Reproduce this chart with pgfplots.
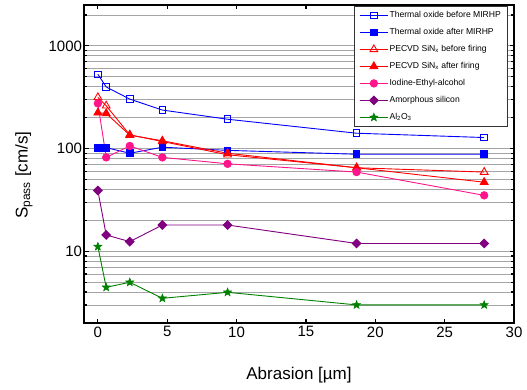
\documentclass[border=0pt]{standalone}
\usepackage{fontspec}
\setmainfont{Liberation Sans}
\usepackage{pgfplots}
\pgfplotsset{compat=1.18}
\usetikzlibrary{plotmarks}
\definecolor{mypink}{RGB}{255,20,140}
\definecolor{mypurple}{RGB}{128,0,128}
\definecolor{mygreen}{RGB}{0,128,0}
\definecolor{mygrid}{RGB}{165,165,165}
\pgfdeclareplotmark{fstar}{%
  \pgfpathmoveto{\pgfqpointpolar{90}{\pgfplotmarksize}}%
  \pgfpathlineto{\pgfqpointpolar{126}{0.42\pgfplotmarksize}}%
  \pgfpathlineto{\pgfqpointpolar{162}{\pgfplotmarksize}}%
  \pgfpathlineto{\pgfqpointpolar{198}{0.42\pgfplotmarksize}}%
  \pgfpathlineto{\pgfqpointpolar{234}{\pgfplotmarksize}}%
  \pgfpathlineto{\pgfqpointpolar{270}{0.42\pgfplotmarksize}}%
  \pgfpathlineto{\pgfqpointpolar{306}{\pgfplotmarksize}}%
  \pgfpathlineto{\pgfqpointpolar{342}{0.42\pgfplotmarksize}}%
  \pgfpathlineto{\pgfqpointpolar{18}{\pgfplotmarksize}}%
  \pgfpathlineto{\pgfqpointpolar{54}{0.42\pgfplotmarksize}}%
  \pgfpathclose
  \pgfusepathqfillstroke}
\begin{document}
\begin{tikzpicture}
\begin{axis}[
  scale only axis, width=430pt, height=318pt,
  xmin=-1, xmax=30, ymin=2, ymax=2500, ymode=log,
  xtick={0,5,...,30},
  ytick={10,100,1000}, yticklabels={10,100,1000},
  minor ytick={2,3,4,5,6,7,8,9,20,30,40,50,60,70,80,90,200,300,400,500,600,700,800,900,2000},
  ymajorgrids, yminorgrids,
  major grid style={mygrid, line width=0.8pt},
  minor grid style={mygrid, line width=0.8pt},
  axis line style={line width=1.6pt},
  major tick length=4.5pt, minor tick length=3pt,
  every tick/.style={black, line width=1.2pt},
  /pgf/number format/assume math mode=true,
  tick label style={font=\fontsize{15}{15}\selectfont},
  yticklabel style={xshift=1.5pt},
  xlabel={Abrasion [µm]},
  ylabel={S\textsubscript{pass} [cm/s]},
  label style={font=\fontsize{17}{17}\selectfont},
  xlabel style={at={(axis description cs:0.5,-0.1635)}, anchor=center},
  ylabel style={at={(axis description cs:-0.1395,0.465)}, anchor=center},
  every axis plot/.append style={line width=0.9pt},
  legend style={at={(rel axis cs:0.984,0.997)}, anchor=north east,
    font=\fontsize{8.6}{9}\selectfont, draw=black!80, fill=white,
    inner xsep=5pt, inner ysep=4pt, row sep=6.5pt,
    nodes={text height=6.5pt, text depth=2pt, inner sep=1pt}},
  legend cell align=left,
  legend image code/.code={\draw[mark repeat=2,mark phase=2] plot coordinates {(0cm,0cm) (0.5cm,0cm) (1cm,0cm)};},
]
\addplot[blue, mark=square, mark size=3.3pt, mark options={fill=white}] coordinates {
 (0,529) (0.6,398) (2.3,303) (4.65,237) (9.35,193) (18.65,141) (27.85,128)};
\addlegendentry{Thermal oxide before MIRHP}
\addplot[blue, mark=square*, mark size=3.3pt] coordinates {
 (0,101) (0.6,102) (2.3,90) (4.65,103) (9.35,96) (18.65,88) (27.85,88)};
\addlegendentry{Thermal oxide after MIRHP}
\addplot[red, mark=triangle, mark size=4.5pt, mark options={fill=white}] coordinates {
 (0,315) (0.6,261) (2.3,136) (4.65,117) (9.35,87) (18.65,65) (27.85,59)};
\addlegendentry{PECVD SiN\textsubscript{x} before firing}
\addplot[red, mark=triangle*, mark size=4.5pt] coordinates {
 (0,223) (0.6,220) (2.3,135) (4.65,119) (9.35,90) (18.65,65) (27.85,47)};
\addlegendentry{PECVD SiN\textsubscript{x} after firing}
\addplot[mypink, mark=*, mark size=3.7pt] coordinates {
 (0,275) (0.6,82) (2.3,106) (4.65,82) (9.35,71) (18.65,59) (27.85,35)};
\addlegendentry{Iodine-Ethyl-alcohol}
\addplot[mypurple, mark=diamond*, mark size=4.3pt, mark options={xscale=1.33}] coordinates {
 (0,39) (0.6,14.4) (2.3,12.4) (4.65,18) (9.35,18) (18.65,11.9) (27.85,11.9)};
\addlegendentry{Amorphous silicon}
\addplot[mygreen, mark=fstar, mark size=4.3pt, mark options={fill=mygreen, line width=0.5pt}] coordinates {
 (0,11.1) (0.6,4.45) (2.3,4.98) (4.65,3.48) (9.35,3.98) (18.65,3.0) (27.85,3.0)};
\addlegendentry{Al\textsubscript{2}O\textsubscript{3}}
\end{axis}
\pgfresetboundingbox
\path[use as bounding box] ([xshift=-84pt,yshift=-67pt]current axis.south west) rectangle ([xshift=13pt,yshift=5pt]current axis.north east);
\end{tikzpicture}
\end{document}
